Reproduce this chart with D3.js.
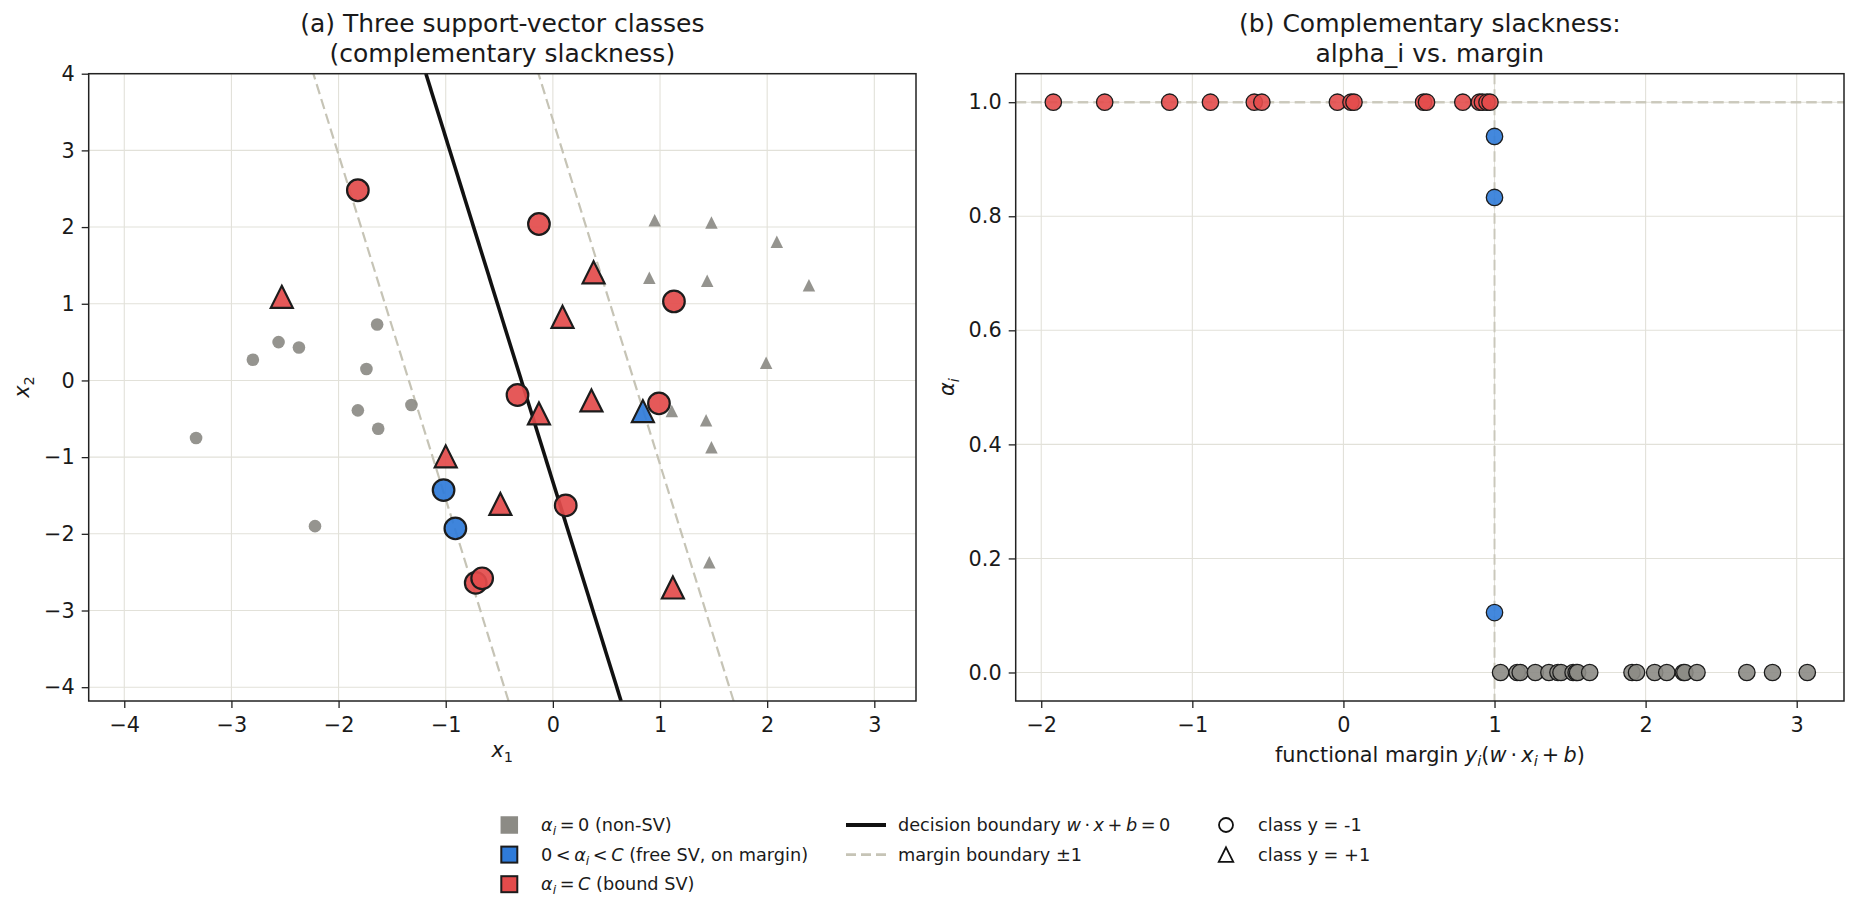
<!DOCTYPE html>
<html>
<head>
<meta charset="utf-8">
<script src="https://cdn.jsdelivr.net/npm/d3@7"></script>
<style>
  html, body { margin: 0; padding: 0; background: #fff; }
  svg text { font-family: "DejaVu Sans", sans-serif; fill: #1a1a1a; white-space: pre; }
</style>
</head>
<body>
<svg id="chart" width="1859" height="919"></svg>
<script>
// ---------- data ----------
// panel (a): points as [x1, x2]
const nonSvNeg = [[-3.33,-0.75],[-2.80,0.27],[-2.56,0.50],[-2.37,0.43],[-1.64,0.73],
                  [-1.74,0.15],[-1.82,-0.39],[-1.63,-0.63],[-1.32,-0.32],[-2.22,-1.90]];
const nonSvPos = [[0.95,2.09],[1.48,2.06],[2.09,1.81],[0.90,1.34],[1.44,1.30],[2.39,1.24],
                  [1.99,0.23],[1.11,-0.40],[1.43,-0.52],[1.48,-0.87],[1.46,-2.37]];
const freeNeg  = [[-1.02,-1.43],[-0.91,-1.93]];
const freePos  = [[0.84,-0.40]];
const boundNeg = [[-1.82,2.48],[-0.13,2.04],[1.13,1.03],[-0.33,-0.19],[0.99,-0.30],
                  [0.12,-1.63],[-0.72,-2.64],[-0.66,-2.58]];
const boundPos = [[-2.53,1.09],[0.38,1.41],[0.09,0.83],[-0.13,-0.43],[0.36,-0.26],
                  [-1.00,-0.99],[-0.49,-1.61],[1.12,-2.70]];

// hyperplane w.x + b, and the levels drawn (margin -1, boundary, margin +1)
const w = [0.952, 0.212];
const b = 0.28;
const levels = [-1, 0, 1];

// panel (b): [functional margin, alpha]
const nonSvAlpha = [[1.04,0],[1.15,0],[1.17,0],[1.27,0],[1.36,0],[1.42,0],[1.44,0],[1.52,0],
                    [1.54,0],[1.55,0],[1.63,0],[1.91,0],[1.94,0],[2.06,0],[2.14,0],[2.25,0],
                    [2.26,0],[2.34,0],[2.67,0],[2.84,0],[3.07,0]];
const freeAlpha  = [[1.0,0.94],[1.0,0.833],[1.0,0.105]];
const boundAlpha = [[-1.92,1],[-1.58,1],[-1.15,1],[-0.88,1],[-0.59,1],[-0.54,1],[-0.04,1],
                    [0.05,1],[0.07,1],[0.53,1],[0.55,1],[0.79,1],[0.90,1],[0.92,1],[0.95,1],[0.97,1]];
const C = 1.0;

const ticksAx = [-4,-3,-2,-1,0,1,2,3];
const ticksAy = [-4,-3,-2,-1,0,1,2,3,4];
const ticksBx = [-2,-1,0,1,2,3];
const ticksBy = [0,0.2,0.4,0.6,0.8,1.0];

// ---------- style ----------
const colNon = "#8c8b85", colFree = "#2f7bd9", colBound = "#e34b4b", edge = "#1c1c1c";
const gridCol = "#e2e1d9", marginCol = "#c6c4b6";
const tickFont = 20.8, titleFont = 25, legendFont = 17.7;
const th = "\u2009"; // thin space for math operators

const svg = d3.select("#chart");
svg.append("rect").attr("width", 1859).attr("height", 919).attr("fill", "#fff");

// mixed text: parts are [string, kind] with kind "", "i", "sub", "isub"
function rich(sel, parts, size) {
    let shift = 0;
    parts.forEach(([str, kind]) => {
        const t = sel.append("tspan").text(str);
        const isSub = kind === "sub" || kind === "isub";
        const want = isSub ? size * 0.22 : 0;
        if (want !== shift) { t.attr("dy", want - shift); shift = want; }
        if (isSub) t.attr("font-size", size * 0.7);
        if (kind === "i" || kind === "isub") t.attr("font-style", "italic");
    });
    return sel;
}

function triPath(ms) {
    const h = ms / 2;
    return `M0,${-h}L${h},${h}L${-h},${h}Z`;
}

function panel(box, xDom, yDom, xTicks, yTicks, xFmt, yFmt, id) {
    const x = d3.scaleLinear().domain(xDom).range([box.left, box.right]);
    const y = d3.scaleLinear().domain(yDom).range([box.bottom, box.top]);
    const g = svg.append("g");

    g.append("clipPath").attr("id", id)
        .append("rect").attr("x", box.left).attr("y", box.top)
        .attr("width", box.right - box.left).attr("height", box.bottom - box.top);

    // grid
    g.append("g").selectAll("line").data(xTicks).join("line")
        .attr("x1", d => x(d)).attr("x2", d => x(d))
        .attr("y1", box.top).attr("y2", box.bottom)
        .attr("stroke", gridCol).attr("stroke-width", 1.1);
    g.append("g").selectAll("line").data(yTicks).join("line")
        .attr("y1", d => y(d)).attr("y2", d => y(d))
        .attr("x1", box.left).attr("x2", box.right)
        .attr("stroke", gridCol).attr("stroke-width", 1.1);

    const plot = g.append("g");

    // axes
    const xa = g.append("g").attr("transform", `translate(0,${box.bottom})`)
        .call(d3.axisBottom(x).tickValues(xTicks).tickSize(7).tickPadding(7).tickFormat(xFmt));
    const ya = g.append("g").attr("transform", `translate(${box.left},0)`)
        .call(d3.axisLeft(y).tickValues(yTicks).tickSize(7).tickPadding(7).tickFormat(yFmt));
    [xa, ya].forEach(a => {
        a.select(".domain").remove();
        a.selectAll("line").attr("stroke", "#222").attr("stroke-width", 1.3);
        a.selectAll("text").attr("font-size", tickFont).attr("font-family", "DejaVu Sans").attr("fill", "#1a1a1a");
    });
    xa.selectAll("text").attr("y", 14).attr("dy", "0.84em");

    g.append("rect").attr("x", box.left).attr("y", box.top)
        .attr("width", box.right - box.left).attr("height", box.bottom - box.top)
        .attr("fill", "none").attr("stroke", "#222").attr("stroke-width", 1.5);

    return {plot, x, y, box};
}

// ---------- panel (a) ----------
const A = panel({left: 88.7, right: 916, top: 73.7, bottom: 701},
    [-4.332, 3.389], [-4.18, 4], ticksAx, ticksAy, d3.format("d"), d3.format("d"), "clipA");

const lineG = A.plot.append("g").attr("clip-path", "url(#clipA)");
const yEnds = A.y.domain();
lineG.selectAll("line").data(levels).join("line")
    .attr("x1", l => A.x((l - b - w[1] * yEnds[0]) / w[0])).attr("y1", A.y(yEnds[0]))
    .attr("x2", l => A.x((l - b - w[1] * yEnds[1]) / w[0])).attr("y2", A.y(yEnds[1]))
    .attr("stroke", l => l === 0 ? "#111" : marginCol)
    .attr("stroke-width", l => l === 0 ? 3.6 : 2.2)
    .attr("stroke-dasharray", l => l === 0 ? null : "10.5,5");

function circlesA(data, fill, r, stroked) {
    A.plot.append("g").selectAll("circle").data(data).join("circle")
        .attr("cx", d => A.x(d[0])).attr("cy", d => A.y(d[1])).attr("r", r)
        .attr("fill", fill).attr("fill-opacity", 0.92)
        .attr("stroke", stroked ? edge : "none").attr("stroke-width", 2.2);
}
function trianglesA(data, fill, ms, stroked) {
    A.plot.append("g").selectAll("path").data(data).join("path")
        .attr("d", triPath(ms))
        .attr("transform", d => `translate(${A.x(d[0])},${A.y(d[1])})`)
        .attr("fill", fill).attr("fill-opacity", 0.92)
        .attr("stroke", stroked ? edge : "none").attr("stroke-width", 2.2);
}
circlesA(nonSvNeg, colNon, 6.3, false);
trianglesA(nonSvPos, colNon, 12.5, false);
circlesA(freeNeg, colFree, 10.8, true);
trianglesA(freePos, colFree, 22, true);
circlesA(boundNeg, colBound, 10.8, true);
trianglesA(boundPos, colBound, 22, true);

// ---------- panel (b) ----------
const B = panel({left: 1015.7, right: 1844, top: 73.7, bottom: 701},
    [-2.169, 3.313], [-0.05, 1.05], ticksBx, ticksBy, d3.format("d"), d3.format(".1f"), "clipB");

B.plot.append("line")
    .attr("x1", B.box.left).attr("x2", B.box.right).attr("y1", B.y(C)).attr("y2", B.y(C))
    .attr("stroke", marginCol).attr("stroke-width", 2.4).attr("stroke-dasharray", "10.5,5").attr("opacity", 0.85);
B.plot.append("line")
    .attr("x1", B.x(1)).attr("x2", B.x(1)).attr("y1", B.box.top).attr("y2", B.box.bottom)
    .attr("stroke", marginCol).attr("stroke-width", 2.0).attr("stroke-dasharray", "10.5,5").attr("opacity", 0.85);

function circlesB(data, fill) {
    B.plot.append("g").selectAll("circle").data(data).join("circle")
        .attr("cx", d => B.x(d[0])).attr("cy", d => B.y(d[1])).attr("r", 8.2)
        .attr("fill", fill).attr("fill-opacity", 0.9)
        .attr("stroke", edge).attr("stroke-width", 1.3);
}
circlesB(nonSvAlpha, colNon);
circlesB(freeAlpha, colFree);
circlesB(boundAlpha, colBound);

// ---------- titles and axis labels ----------
const cA = (88.7 + 916) / 2, cB = (1015.7 + 1844) / 2;
[[cA, "(a) Three support-vector classes", "(complementary slackness)"],
 [cB, "(b) Complementary slackness:", "alpha_i vs. margin"]].forEach(([cx, l1, l2]) => {
    svg.append("text").attr("x", cx).attr("y", 32).attr("text-anchor", "middle")
        .attr("font-size", titleFont).text(l1);
    svg.append("text").attr("x", cx).attr("y", 62).attr("text-anchor", "middle")
        .attr("font-size", titleFont).text(l2);
});

rich(svg.append("text").attr("x", cA).attr("y", 757).attr("text-anchor", "middle").attr("font-size", tickFont),
    [["x", "i"], ["1", "sub"]], tickFont);
rich(svg.append("text").attr("transform", "translate(29,387) rotate(-90)").attr("text-anchor", "middle").attr("font-size", tickFont),
    [["x", "i"], ["2", "sub"]], tickFont);
rich(svg.append("text").attr("x", cB).attr("y", 761.5).attr("text-anchor", "middle").attr("font-size", tickFont),
    [["functional margin ", ""], ["y", "i"], ["i", "isub"], ["(", ""], ["w", "i"], [th + "\u00b7" + th, ""],
     ["x", "i"], ["i", "isub"], [th + "+" + th, ""], ["b", "i"], [")", ""]], tickFont);
rich(svg.append("text").attr("transform", "translate(954,387) rotate(-90)").attr("text-anchor", "middle").attr("font-size", tickFont),
    [["\u03b1", "i"], ["i", "isub"]], tickFont);

// ---------- legend ----------
const rows = [825, 854.6, 884.2];
const leg = svg.append("g");

const swatches = [[colNon, false], [colFree, true], [colBound, true]];
swatches.forEach(([fill, stroked], k) => {
    const s = stroked ? 16 : 17.5;
    leg.append("rect").attr("x", 509.3 - s / 2).attr("y", rows[k] - s / 2)
        .attr("width", s).attr("height", s).attr("fill", fill)
        .attr("stroke", stroked ? edge : "none").attr("stroke-width", 2);
});
const legText1 = [
    [["\u03b1", "i"], ["i", "isub"], [th + "=" + th + "0 (non-SV)", ""]],
    [["0" + th + "<" + th, ""], ["\u03b1", "i"], ["i", "isub"], [th + "<" + th, ""], ["C", "i"], [" (free SV, on margin)", ""]],
    [["\u03b1", "i"], ["i", "isub"], [th + "=" + th, ""], ["C", "i"], [" (bound SV)", ""]]
];
legText1.forEach((parts, k) => rich(leg.append("text").attr("x", 541).attr("y", rows[k]).attr("dy", "0.35em")
    .attr("font-size", legendFont), parts, legendFont));

leg.append("line").attr("x1", 846).attr("x2", 886).attr("y1", rows[0]).attr("y2", rows[0])
    .attr("stroke", "#111").attr("stroke-width", 3.8);
leg.append("line").attr("x1", 846).attr("x2", 886).attr("y1", rows[1]).attr("y2", rows[1])
    .attr("stroke", marginCol).attr("stroke-width", 2.6).attr("stroke-dasharray", "10,5");
const legText2 = [
    [["decision boundary ", ""], ["w", "i"], [th + "\u00b7" + th, ""], ["x", "i"], [th + "+" + th, ""], ["b", "i"], [th + "=" + th + "0", ""]],
    [["margin boundary \u00b11", ""]]
];
legText2.forEach((parts, k) => rich(leg.append("text").attr("x", 898).attr("y", rows[k]).attr("dy", "0.35em")
    .attr("font-size", legendFont), parts, legendFont));

leg.append("circle").attr("cx", 1226).attr("cy", rows[0]).attr("r", 7)
    .attr("fill", "none").attr("stroke", "#111").attr("stroke-width", 1.8);
leg.append("path").attr("d", triPath(14.5)).attr("transform", `translate(1226,${rows[1]})`)
    .attr("fill", "none").attr("stroke", "#111").attr("stroke-width", 1.8);
["class y = -1", "class y = +1"].forEach((s, k) =>
    leg.append("text").attr("x", 1258).attr("y", rows[k]).attr("dy", "0.35em")
        .attr("font-size", legendFont).text(s));
</script>
</body>
</html>
